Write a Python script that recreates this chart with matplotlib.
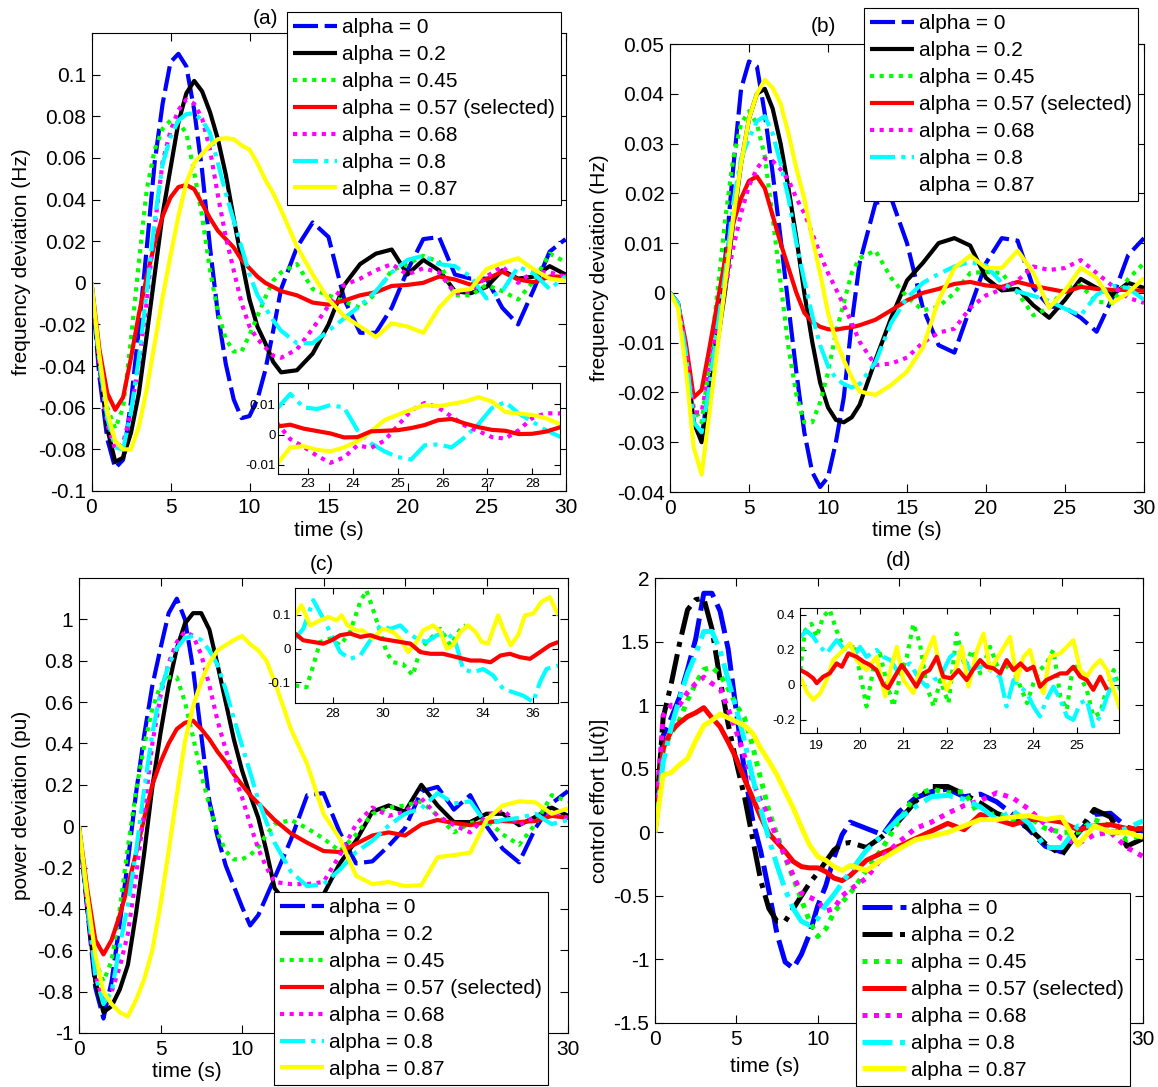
import matplotlib
matplotlib.use('Agg')
import matplotlib.pyplot as plt
from matplotlib.lines import Line2D

plt.rcParams['font.family'] = ['Liberation Sans', 'DejaVu Sans']
plt.rcParams['axes.unicode_minus'] = False

# ---------------- data ----------------
labels = ['alpha = 0', 'alpha = 0.2', 'alpha = 0.45', 'alpha = 0.57 (selected)',
          'alpha = 0.68', 'alpha = 0.8', 'alpha = 0.87']
T = [0, 0.5, 1, 1.5, 2, 2.5, 3, 3.5, 4, 4.5, 5, 5.5, 6, 6.5, 7, 7.5, 8, 8.5, 9, 9.5,
     10, 10.5, 11, 11.5, 12, 13, 14, 15, 16, 17, 18, 19, 20, 21, 22, 23, 24, 25, 26,
     27, 28, 29, 30]

# (a) frequency deviation, case 1
a_blue = [0, -0.045, -0.075, -0.089, -0.085, -0.057, -0.022, 0.017, 0.058, 0.086, 0.106, 0.11, 0.104, 0.083, 0.054, 0.017, -0.015, -0.039, -0.056, -0.065, -0.064, -0.056, -0.042, -0.023, -0.003,
          0.017, 0.029, 0.022, -0.008, -0.024, -0.024, -0.012, 0.006, 0.021, 0.022, 0.004, 0.002, 0.002, -0.012, -0.02, -0.003, 0.015, 0.021]
a_black = [0, -0.04, -0.07, -0.086, -0.084, -0.072, -0.053, -0.025, 0.004, 0.033, 0.055, 0.077, 0.091, 0.097, 0.092, 0.082, 0.069, 0.052, 0.031, 0.011, -0.008, -0.021, -0.029, -0.038, -0.043,
           -0.042, -0.034, -0.02, -0.001, 0.009, 0.014, 0.016, 0.004, 0.011, 0.006, -0.004, -0.005, -0.002, 0.006, 0.002, 0.003, 0.008, 0.004]
a_green = [0, -0.035, -0.06, -0.07, -0.06, -0.027, 0.01, 0.045, 0.064, 0.074, 0.078, 0.077, 0.072, 0.053, 0.032, 0.006, -0.014, -0.027, -0.033, -0.033, -0.025, -0.016, -0.007, 0.001, 0.005,
           0.009, -0.003, -0.006, -0.009, -0.012, -0.005, 0.006, 0.009, 0.013, 0.01, -0.006, -0.006, -0.001, -0.004, -0.008, 0.001, 0.014, 0.01]
a_red = [0, -0.032, -0.053, -0.061, -0.055, -0.036, -0.015, 0.003, 0.019, 0.032, 0.041, 0.046, 0.047, 0.045, 0.038, 0.031, 0.025, 0.021, 0.017, 0.011, 0.007, 0.003, 0.0, -0.002, -0.004,
         -0.006, -0.0095, -0.0105, -0.0085, -0.006, -0.0045, -0.0015, -0.001, 0.0, 0.003, 0.0016, -0.0009, 0.0018, 0.0053, 0.0016, 0.0003, 0.003, 0.003]
a_mag = [0, -0.04, -0.068, -0.08, -0.077, -0.062, -0.038, -0.009, 0.027, 0.058, 0.073, 0.083, 0.088, 0.086, 0.079, 0.064, 0.042, 0.022, 0.006, -0.0098, -0.021, -0.027, -0.031, -0.035, -0.036,
         -0.032, -0.022, -0.011, -0.001, 0.002, 0.006, 0.009, 0.004, 0.007, 0.005, -0.005, -0.004, 0.003, 0.008, 0.0, 0.0055, 0.005, 0.003]
a_cyan = [0, -0.038, -0.065, -0.079, -0.08, -0.062, -0.036, -0.004, 0.03, 0.057, 0.07, 0.078, 0.081, 0.0815, 0.078, 0.072, 0.0575, 0.043, 0.03, 0.017, 0.004, -0.0058, -0.012, -0.018, -0.023,
          -0.029, -0.029, -0.023, -0.017, -0.011, -0.004, 0.005, 0.011, 0.013, 0.009, 0.008, 0.003, -0.0075, -0.004, 0.0077, 0.0044, -0.003, 0.003]
a_yel = [0, -0.035, -0.062, -0.076, -0.08, -0.08, -0.069, -0.051, -0.029, -0.007, 0.013, 0.032, 0.048, 0.0575, 0.062, 0.066, 0.069, 0.0695, 0.069, 0.066, 0.064, 0.0575, 0.0495, 0.043, 0.035,
         0.0175, 0.004, -0.008, -0.016, -0.021, -0.026, -0.0195, -0.021, -0.024, -0.012, -0.004, -0.003, 0.0066, 0.0095, 0.0118, 0.0064, 0.002, 0.001]

# (b) frequency deviation, case 2
b_blue = [0, -0.002, -0.013, -0.026, -0.029, -0.018, -0.006, 0.007, 0.025, 0.041, 0.0465, 0.0455, 0.036, 0.024, 0.011, -0.0027, -0.016, -0.028, -0.036, -0.039, -0.037, -0.03, -0.021, -0.006, 0.006,
          0.018, 0.019, 0.01, -0.003, -0.0105, -0.012, -0.003, 0.006, 0.011, 0.0105, 0.001, -0.0027, -0.003, -0.005, -0.0078, -0.001, 0.0076, 0.011]
b_black = [0, -0.002, -0.012, -0.026, -0.03, -0.021, -0.01, 0.0006, 0.014, 0.026, 0.035, 0.04, 0.041, 0.037, 0.03, 0.021, 0.011, 0.0, -0.0098, -0.018, -0.023, -0.0255, -0.026, -0.025, -0.0225,
           -0.0135, -0.005, 0.0025, 0.006, 0.01, 0.011, 0.0095, 0.003, 0.0005, 0.0008, -0.0025, -0.005, -0.0014, 0.0028, 0.001, -0.0004, 0.002, 0.001]
b_green = [0, -0.002, -0.011, -0.023, -0.026, -0.014, 0.0, 0.015, 0.027, 0.034, 0.0365, 0.034, 0.0274, 0.015, 0.002, -0.011, -0.0205, -0.026, -0.026, -0.022, -0.016, -0.008, -0.002, 0.004, 0.007,
           0.0085, 0.003, -0.0008, -0.0035, -0.0028, 0.0, 0.004, 0.0042, 0.004, 0.0, -0.0045, -0.003, 0.001, 0.0015, -0.0018, -0.002, 0.0028, 0.006]
b_red = [0, -0.002, -0.01, -0.021, -0.0195, -0.011, -0.002, 0.007, 0.014, 0.019, 0.0225, 0.0234, 0.021, 0.0155, 0.01, 0.005, 0.0, -0.004, -0.0058, -0.0068, -0.0073, -0.0074, -0.0071, -0.0069, -0.0065,
         -0.0054, -0.0035, -0.0015, 0.0, 0.0008, 0.0018, 0.0022, 0.0015, 0.0012, 0.0022, 0.0014, 0.0008, 0.0002, 0.0012, 0.0008, 0.0006, 0.0006, 0.0004]
b_mag = [0, -0.002, -0.011, -0.024, -0.024, -0.015, -0.007, 0.001, 0.009, 0.016, 0.0215, 0.025, 0.027, 0.0265, 0.0248, 0.0227, 0.019, 0.016, 0.012, 0.0078, 0.004, 0.0008, -0.0025, -0.006, -0.0098,
         -0.0145, -0.0142, -0.013, -0.01, -0.008, -0.0072, -0.003, -0.0005, 0.0007, 0.0025, 0.0053, 0.0046, 0.005, 0.0066, 0.004, 0.0014, -0.001, -0.002]
b_cyan = [0, -0.002, -0.012, -0.026, -0.028, -0.019, -0.007, 0.004, 0.018, 0.027, 0.031, 0.0345, 0.0355, 0.032, 0.026, 0.019, 0.01, 0.0025, -0.0045, -0.0105, -0.0147, -0.0172, -0.0183, -0.019, -0.0183,
          -0.014, -0.006, -0.001, 0.002, 0.0038, 0.0053, 0.0062, 0.0055, 0.002, 0.0003, -0.0006, -0.0016, -0.0032, -0.0045, -0.0004, 0.0014, 0.001, -0.0014]
b_yel = [0, -0.003, -0.015, -0.031, -0.0365, -0.024, -0.011, 0.002, 0.015, 0.026, 0.035, 0.04, 0.0428, 0.0412, 0.038, 0.032, 0.025, 0.019, 0.011, 0.004, -0.004, -0.0095, -0.0135, -0.017, -0.0198,
         -0.0205, -0.0185, -0.0158, -0.011, -0.0015, 0.005, 0.0075, 0.005, 0.005, 0.0085, 0.004, -0.003, 0.0005, 0.005, 0.003, -0.002, 0.0, 0.003]

# (c) power deviation
c_blue = [0, -0.4, -0.78, -0.93, -0.75, -0.47, -0.17, 0.16, 0.44, 0.68, 0.86, 1.03, 1.1, 1.0, 0.76, 0.44, 0.12, -0.05, -0.19, -0.29, -0.39, -0.48, -0.43, -0.34, -0.25,
          -0.065, 0.15, 0.16, -0.03, -0.18, -0.17, -0.095, -0.01, 0.168, 0.19, 0.08, 0.15, 0.0, -0.11, -0.175, -0.01, 0.11, 0.17]
c_black = [0, -0.38, -0.75, -0.9, -0.87, -0.79, -0.67, -0.42, -0.13, 0.19, 0.45, 0.68, 0.86, 0.98, 1.03, 1.03, 0.95, 0.78, 0.6, 0.42, 0.27, 0.15, 0.04, -0.12, -0.3,
           -0.4, -0.42, -0.33, -0.18, -0.07, 0.07, 0.1, 0.07, 0.2, 0.1, 0.02, 0.02, 0.06, 0.06, 0.005, 0.045, 0.09, 0.05]
c_green = [0, -0.35, -0.65, -0.75, -0.65, -0.4, -0.1, 0.17, 0.39, 0.57, 0.68, 0.72, 0.72, 0.6, 0.43, 0.25, 0.1, -0.03, -0.12, -0.16, -0.16, -0.14, -0.1, -0.04, 0.01,
           0.03, -0.01, -0.06, -0.12, -0.04, 0.06, 0.09, 0.1, 0.12, 0.05, -0.03, 0.015, 0.03, -0.04, -0.09, 0.01, 0.15, 0.12]
c_red = [0, -0.3, -0.55, -0.62, -0.55, -0.43, -0.29, -0.13, 0.04, 0.2, 0.31, 0.4, 0.47, 0.5, 0.51, 0.47, 0.42, 0.36, 0.31, 0.25, 0.2, 0.15, 0.11, 0.07, 0.03,
         -0.035, -0.08, -0.12, -0.125, -0.085, -0.045, -0.03, -0.045, 0.008, 0.03, 0.015, 0.005, 0.02, 0.025, 0.02, 0.025, 0.05, 0.04]
c_mag = [0, -0.38, -0.72, -0.85, -0.8, -0.68, -0.52, -0.24, 0.07, 0.4, 0.63, 0.79, 0.89, 0.94, 0.92, 0.83, 0.68, 0.51, 0.37, 0.25, 0.14, 0.01, -0.11, -0.2, -0.27,
         -0.28, -0.28, -0.27, -0.14, 0.01, 0.09, 0.05, 0.07, 0.135, 0.05, 0.005, -0.03, 0.05, 0.08, 0.005, 0.045, 0.07, 0.04]
c_cyan = [0, -0.36, -0.72, -0.86, -0.8, -0.58, -0.38, -0.12, 0.18, 0.45, 0.65, 0.78, 0.86, 0.91, 0.92, 0.9, 0.85, 0.78, 0.66, 0.52, 0.39, 0.26, 0.126, 0.02, -0.08,
          -0.22, -0.29, -0.28, -0.21, -0.125, -0.07, 0.003, 0.06, 0.086, 0.16, 0.11, 0.12, 0.01, 0.03, 0.04, 0.06, 0.01, 0.03]
c_yel = [0, -0.33, -0.62, -0.8, -0.86, -0.9, -0.92, -0.84, -0.74, -0.6, -0.38, -0.12, 0.15, 0.41, 0.58, 0.7, 0.79, 0.85, 0.875, 0.9, 0.92, 0.88, 0.85, 0.8, 0.7,
         0.47, 0.3, 0.06, -0.06, -0.24, -0.28, -0.27, -0.29, -0.285, -0.15, -0.14, -0.128, 0.03, 0.1, 0.12, 0.115, 0.06, 0.086]

# (d) control effort
d_blue = [0, 0.76, 0.9, 1.06, 1.28, 1.52, 1.88, 1.88, 1.74, 1.44, 0.95, 0.48, 0.1, -0.15, -0.46, -0.8, -1.02, -1.07, -0.96, -0.8, -0.58, -0.42, -0.2, -0.02, 0.08,
          0.03, -0.02, 0.16, 0.27, 0.32, 0.34, 0.28, 0.3, 0.24, 0.14, 0.02, -0.11, -0.155, -0.01, 0.14, 0.15, 0.04, 0.01]
d_black = [0, 0.9, 1.17, 1.48, 1.75, 1.83, 1.84, 1.6, 1.2, 0.85, 0.55, 0.28, -0.05, -0.38, -0.6, -0.7, -0.7, -0.6, -0.5, -0.4, -0.32, -0.23, -0.14, -0.09, -0.08,
           -0.12, -0.03, 0.09, 0.24, 0.36, 0.36, 0.3, 0.23, 0.15, 0.1, 0.03, -0.09, -0.18, 0.0, 0.18, 0.12, -0.11, -0.05]
d_green = [0, 0.65, 0.78, 0.88, 1.04, 1.17, 1.28, 1.3, 1.24, 1.13, 1.0, 0.9, 0.68, 0.42, 0.17, -0.02, -0.2, -0.36, -0.53, -0.7, -0.82, -0.76, -0.63, -0.55, -0.48,
           -0.3, -0.12, 0.09, 0.29, 0.34, 0.31, 0.32, 0.12, 0.15, 0.1, 0.12, 0.03, 0.0, 0.0, 0.1, 0.05, -0.06, -0.02]
d_red = [0, 0.66, 0.8, 0.86, 0.91, 0.94, 0.98, 0.9, 0.83, 0.71, 0.58, 0.42, 0.27, 0.12, -0.01, -0.08, -0.15, -0.23, -0.27, -0.28, -0.28, -0.31, -0.36, -0.38, -0.34,
         -0.22, -0.16, -0.11, -0.05, 0.01, 0.07, 0.02, 0.14, 0.1, 0.06, 0.1, 0.1, 0.08, 0.02, 0.05, 0.06, 0.03, 0.03]
d_mag = [0, 0.92, 1.0, 1.0, 1.1, 1.17, 1.22, 1.17, 1.13, 0.97, 0.79, 0.6, 0.4, 0.25, 0.12, -0.05, -0.19, -0.34, -0.48, -0.51, -0.54, -0.62, -0.6, -0.5, -0.45,
         -0.36, -0.19, -0.076, 0.03, 0.08, 0.15, 0.21, 0.25, 0.31, 0.27, 0.18, 0.06, -0.05, -0.09, -0.02, 0.0, -0.12, -0.19]
d_cyan = [0, 0.55, 0.83, 1.05, 1.25, 1.4, 1.58, 1.58, 1.43, 1.2, 0.97, 0.72, 0.43, 0.18, -0.05, -0.26, -0.45, -0.6, -0.7, -0.73, -0.68, -0.57, -0.49, -0.4, -0.31,
          -0.14, -0.02, 0.11, 0.2, 0.28, 0.29, 0.26, 0.2, 0.1, 0.17, 0.07, -0.12, -0.12, 0.05, 0.05, 0.0, 0.03, 0.09]
d_yel = [0, 0.45, 0.47, 0.53, 0.58, 0.72, 0.84, 0.88, 0.93, 0.9, 0.87, 0.84, 0.78, 0.66, 0.56, 0.45, 0.32, 0.19, 0.04, -0.1, -0.19, -0.22, -0.27, -0.3, -0.26,
         -0.3, -0.21, -0.13, -0.06, -0.03, 0.0, 0.05, 0.1, 0.1, 0.12, 0.13, 0.1, 0.12, -0.1, 0.05, 0.0, 0.0, -0.04]

# inset (a)
ia_t = [22.3, 22.6, 22.9, 23.2, 23.5, 23.8, 24.1, 24.4, 24.7, 25.0, 25.3, 25.6, 25.9, 26.2, 26.5, 26.8, 27.1, 27.4, 27.7, 28.0, 28.3, 28.7]
ia_red = [0.0027, 0.0033, 0.002, 0.0012, 0.0004, -0.0009, -0.0008, 0.0011, 0.0013, 0.0015, 0.0022, 0.0032, 0.0048, 0.0052, 0.0037, 0.0025, 0.0016, 0.0013, 0.0002, 0.0003, 0.001, 0.0028]
ia_mag = [0.004, -0.0015, -0.004, -0.007, -0.0093, -0.0075, -0.0035, -0.0044, -0.002, 0.003, 0.008, 0.0105, 0.009, 0.006, 0.003, 0.0012, -0.0008, -0.0013, 0.0015, 0.0055, 0.0071, 0.007]
ia_cyan = [0.0085, 0.0135, 0.009, 0.0085, 0.0098, 0.009, 0.0015, -0.0028, -0.0055, -0.0074, -0.0082, -0.0035, -0.0032, -0.0042, -0.0008, 0.0035, 0.0088, 0.0108, 0.007, 0.0044, 0.0015, -0.0012]
ia_yel = [-0.0099, -0.0042, -0.0038, -0.005, -0.0055, -0.0042, -0.0022, 0.001, 0.0048, 0.0066, 0.0083, 0.0098, 0.0094, 0.0102, 0.011, 0.0124, 0.011, 0.0075, 0.007, 0.0065, 0.0055, 0.003]

# inset (c)
ic_yel_t = [26.5, 26.76, 27.1, 27.5, 27.83, 28.16, 28.36, 28.6, 28.96, 29.2, 29.6, 30.0, 30.4, 30.75, 31.0, 31.35, 31.6, 32.0, 32.3, 32.55, 32.8, 33.1, 33.4, 33.7, 33.95, 34.2, 34.6, 34.8, 35.1, 35.4, 35.67, 36.0, 36.33, 36.66, 37.0]
ic_yel = [0.099, 0.129, 0.069, 0.084, 0.094, 0.084, 0.099, 0.069, 0.054, 0.054, 0.03, 0.059, 0.05, 0.025, -0.01, 0.02, 0.054, 0.069, 0.05, 0.0, 0.01, 0.05, 0.069, 0.05, 0.02, 0.015, 0.099, 0.059, 0.01, 0.04, 0.099, 0.104, 0.139, 0.153, 0.099]
ic_red_t = [26.5, 26.83, 27.23, 27.63, 27.96, 28.3, 28.7, 29.1, 29.5, 29.9, 30.3, 30.7, 31.1, 31.5, 31.9, 32.4, 32.95, 33.5, 33.9, 34.3, 34.7, 35.07, 35.47, 35.87, 36.27, 36.66, 37.0]
ic_red = [0.045, 0.025, 0.02, 0.015, 0.025, 0.04, 0.045, 0.035, 0.04, 0.03, 0.025, 0.02, 0.015, -0.01, -0.015, -0.015, -0.025, -0.035, -0.035, -0.04, -0.02, -0.015, -0.025, -0.03, -0.01, 0.01, 0.02]
ic_green_t = [26.5, 26.96, 27.23, 27.5, 27.9, 28.3, 28.7, 29.1, 29.35, 29.6, 29.9, 30.15, 30.4, 30.8, 31.2, 31.5, 31.9, 32.3, 32.7, 33.1, 33.3]
ic_green = [-0.109, -0.114, -0.05, 0.02, 0.03, 0.01, 0.05, 0.139, 0.173, 0.119, 0.05, -0.01, -0.04, -0.045, -0.079, 0.0, 0.03, 0.059, 0.01, 0.059, 0.07]
ic_cyan_t = [26.5, 26.83, 27.23, 27.63, 27.9, 28.3, 28.7, 29.1, 29.5, 29.9, 30.3, 30.7, 30.96, 31.35, 31.75, 32.15, 32.55, 32.9, 33.2, 33.6, 34.0, 34.4, 34.8, 35.2, 35.6, 36.0, 36.27, 36.53, 37.0]
ic_cyan = [0.03, 0.059, 0.144, 0.089, 0.05, -0.01, -0.03, -0.02, 0.025, 0.069, 0.059, 0.069, 0.05, 0.03, 0.02, 0.04, 0.05, 0.02, -0.06, -0.07, -0.06, -0.079, -0.119, -0.129, -0.139, -0.158, -0.099, -0.06, -0.05]

# inset (d)
id_red_t = [18.62, 18.77, 18.92, 19.0, 19.15, 19.3, 19.46, 19.58, 19.73, 19.92, 20.08, 20.23, 20.38, 20.54, 20.65, 20.8, 20.96, 21.1, 21.3, 21.46, 21.6, 21.77, 21.92, 22.1, 22.27, 22.46, 22.6, 22.77, 22.92, 23.08, 23.23, 23.38, 23.54, 23.7, 23.85, 24.0, 24.15, 24.3, 24.46, 24.62, 24.77, 24.92, 25.08, 25.23, 25.38, 25.54, 25.7]
id_red = [0.085, 0.066, 0.038, 0.01, 0.047, 0.066, 0.123, 0.104, 0.18, 0.161, 0.133, 0.114, 0.085, 0.0, -0.019, 0.047, 0.114, 0.066, -0.01, 0.066, 0.085, 0.161, 0.047, 0.038, 0.085, 0.028, 0.085, 0.142, 0.104, 0.095, 0.066, 0.142, 0.085, 0.123, 0.085, 0.104, -0.01, 0.028, 0.047, 0.066, 0.066, 0.104, 0.047, 0.028, -0.028, 0.047, -0.028]
id_yel_t = [18.62, 18.77, 18.92, 19.08, 19.23, 19.38, 19.54, 19.77, 19.92, 20.15, 20.38, 20.58, 20.7, 20.85, 21.0, 21.23, 21.38, 21.54, 21.7, 21.85, 22.0, 22.2, 22.35, 22.5, 22.7, 22.85, 23.0, 23.23, 23.46, 23.62, 23.77, 23.92, 24.08, 24.23, 24.38, 24.62, 24.77, 24.92, 25.08, 25.23, 25.38, 25.54, 25.7, 25.85, 26.0]
id_yel = [0.047, -0.038, -0.085, -0.047, 0.028, 0.142, 0.18, 0.237, 0.142, 0.085, 0.161, -0.066, 0.085, 0.218, 0.028, -0.047, 0.085, 0.18, 0.275, 0.085, -0.028, 0.085, 0.218, -0.01, 0.2, 0.294, 0.085, 0.18, 0.275, 0.028, 0.161, 0.2, 0.047, -0.047, 0.161, 0.18, 0.218, 0.256, 0.085, 0.047, 0.104, 0.142, 0.085, -0.028, -0.142]
id_green_t = [18.62, 18.73, 18.88, 19.0, 19.15, 19.3, 19.46, 19.7, 19.85, 20.0, 20.15, 20.3, 20.46, 20.6, 20.77, 20.92, 21.08, 21.23, 21.38, 21.54, 21.7, 21.85, 22.04, 22.23, 22.42, 22.58, 22.77, 23.0, 23.23, 23.46, 23.7, 23.85, 24.0, 24.15, 24.3, 24.46, 24.62, 24.77, 24.92, 25.08, 25.23, 25.38, 25.54, 25.7, 25.85, 26.0]
id_green = [0.085, 0.31, 0.35, 0.275, 0.39, 0.43, 0.31, 0.161, 0.237, 0.066, -0.123, 0.085, 0.18, 0.028, -0.123, 0.047, 0.161, 0.35, 0.237, -0.01, -0.123, 0.028, -0.104, 0.294, 0.104, 0.2, 0.066, 0.218, 0.066, 0.123, -0.01, -0.104, 0.01, 0.085, 0.123, 0.2, -0.066, -0.142, 0.123, 0.047, -0.028, -0.18, -0.161, -0.01, 0.085, -0.028]
id_cyan_t = [18.62, 18.77, 18.92, 19.08, 19.23, 19.46, 19.65, 19.85, 20.0, 20.15, 20.38, 20.54, 20.7, 20.85, 21.0, 21.15, 21.38, 21.54, 21.7, 21.85, 22.08, 22.3, 22.54, 22.77, 23.0, 23.23, 23.38, 23.54, 23.7, 23.85, 24.0, 24.15, 24.3, 24.46, 24.62, 24.77, 24.92, 25.08, 25.23, 25.38, 25.54, 25.7, 25.85, 26.0]
id_cyan = [0.275, 0.31, 0.275, 0.218, 0.18, 0.256, 0.2, 0.161, 0.218, 0.161, 0.2, 0.161, 0.142, 0.085, 0.104, 0.123, 0.028, -0.01, 0.028, 0.047, 0.161, 0.2, 0.085, 0.104, 0.085, 0.047, -0.123, 0.028, -0.01, -0.047, -0.123, -0.18, -0.085, -0.01, -0.085, -0.18, -0.2, -0.104, -0.085, -0.237, -0.18, -0.066, 0.028, 0.066]

# ticks
xt_main = [0, 5, 10, 15, 20, 25, 30]
yt_a = [-0.1, -0.08, -0.06, -0.04, -0.02, 0, 0.02, 0.04, 0.06, 0.08, 0.1]
yt_b = [-0.04, -0.03, -0.02, -0.01, 0, 0.01, 0.02, 0.03, 0.04, 0.05]
yt_c = [-1, -0.8, -0.6, -0.4, -0.2, 0, 0.2, 0.4, 0.6, 0.8, 1]
yt_d = [-1.5, -1, -0.5, 0, 0.5, 1, 1.5, 2]

# ---------------- styling ----------------
W, H = 1158, 1087
FS = 15
LW = 3
DASH = (0, (6, 1.6))
DOT = (0, (1, 1.3))
DASHDOT = (0, (6, 1.5, 1, 1.5))
COLORS = ['#0000ff', '#000000', '#00ff00', '#ff0000', '#ff00ff', '#00ffff', '#ffff00']
STYLES = [DASH, '-', DOT, '-', DOT, DASHDOT, '-']

fig = plt.figure(figsize=(W / 100, H / 100), dpi=100)


def ax_at(l, t, r, b):
    return fig.add_axes([l / W, 1 - b / H, (r - l) / W, (b - t) / H])


def fmt(v):
    return '%g' % v


def style(ax, fs, length, padx, pady):
    ax.tick_params(direction='in', top=True, right=True, length=length, width=0.8,
                   labelsize=fs)
    ax.tick_params(axis='x', pad=padx)
    ax.tick_params(axis='y', pad=pady)
    for s in ax.spines.values():
        s.set_linewidth(0.8)


def main_panel(box, series, yt, ylim, ylabel, ylab_x, xlab_xy, styles, lw=LW):
    ax = ax_at(*box)
    handles = []
    for y, c, ls in zip(series, COLORS, styles):
        ln, = ax.plot(T, y, color=c, lw=lw, linestyle=ls, solid_capstyle='butt',
                      dash_capstyle='butt')
        handles.append(ln)
    ax.set_xlim(0, 30)
    ax.set_ylim(*ylim)
    ax.set_xticks(xt_main)
    ax.set_xticklabels([fmt(v) for v in xt_main])
    ax.set_yticks(yt)
    ax.set_yticklabels([fmt(v) for v in yt])
    style(ax, FS, 6, 5, 4)
    ax.set_ylabel(ylabel, fontsize=FS)
    ax.yaxis.set_label_coords(ylab_x, 0.5)
    ax.set_xlabel('time (s)', fontsize=FS)
    ax.xaxis.set_label_coords(*xlab_xy)
    return ax, handles


def inset(box, tlist, ylist, cols, lss, xlim, ylim, xt, yt, padx, pady):
    ax = ax_at(*box)
    ax.set_facecolor('white')
    for t, y, c, ls in zip(tlist, ylist, cols, lss):
        ax.plot(t, y, color=c, lw=LW, linestyle=ls, solid_capstyle='butt',
                dash_capstyle='butt')
    ax.set_xlim(*xlim)
    ax.set_ylim(*ylim)
    ax.set_xticks(xt)
    ax.set_xticklabels([fmt(v) for v in xt])
    ax.set_yticks(yt)
    ax.set_yticklabels([fmt(v) for v in yt])
    style(ax, 9.5, 4, padx, pady)
    return ax


def legend(handles, x, y):
    lg = fig.legend(handles, labels, loc='upper left', bbox_to_anchor=(x / W, 1 - y / H),
                    bbox_transform=fig.transFigure, frameon=True, fancybox=False,
                    edgecolor='black', framealpha=1, borderaxespad=0, borderpad=0.3,
                    labelspacing=0.38, handlelength=2.1, handletextpad=0.25, fontsize=FS)
    lg.get_frame().set_linewidth(0.8)
    return lg


# (a)
axa, ha = main_panel((91.5, 33, 565.5, 491), [a_blue, a_black, a_green, a_red, a_mag, a_cyan, a_yel],
                     yt_a, (-0.1, 0.12), 'frequency deviation (Hz)', -0.128, (0.5, -0.066), STYLES)
inset((277.7, 383, 560, 473.7), [ia_t, ia_t, ia_t, ia_t], [ia_cyan, ia_mag, ia_yel, ia_red],
      [COLORS[5], COLORS[4], COLORS[6], COLORS[3]], [DASHDOT, DOT, '-', '-'],
      (22.32, 28.62), (-0.0129, 0.0171), [23, 24, 25, 26, 27, 28], [-0.01, 0, 0.01], 3, 1.5)
legend(ha, 287, 12)
fig.text(265 / W, 1 - 19 / H, '(a)', ha='center', va='center', fontsize=FS)

# (b)
axb, hb = main_panel((670, 44, 1144, 492), [b_blue, b_black, b_green, b_red, b_mag, b_cyan, b_yel],
                     yt_b, (-0.04, 0.05), 'frequency deviation (Hz)', -0.129, (0.5, -0.065), STYLES)
hb_leg = hb[:6] + [Line2D([], [], color='none')]
legend(hb_leg, 864, 8)
fig.text(823 / W, 1 - 26 / H, '(b)', ha='center', va='center', fontsize=FS)

# (c)
axc, hc = main_panel((79, 578, 568, 1033), [c_blue, c_black, c_green, c_red, c_mag, c_cyan, c_yel],
                     yt_c, (-1, 1.2), 'power deviation (pu)', -0.098, (0.221, -0.064), STYLES)
inset((295, 588, 558.3, 702.7), [ic_green_t, ic_cyan_t, ic_yel_t, ic_red_t],
      [ic_green, ic_cyan, ic_yel, ic_red],
      [COLORS[2], COLORS[5], COLORS[6], COLORS[3]], [DOT, DASHDOT, '-', '-'],
      (26.5, 37.0), (-0.16, 0.18), [28, 30, 32, 34, 36], [-0.1, 0, 0.1], 4, 3)
legend(hc, 274, 892)
fig.text(322 / W, 1 - 564 / H, '(c)', ha='center', va='center', fontsize=FS)

# (d)
styles_d = [DASH, DASHDOT, DOT, '-', DOT, DASHDOT, '-']
axd, hd = main_panel((655, 578, 1143, 1023), [d_blue, d_black, d_green, d_red, d_mag, d_cyan, d_yel],
                     yt_d, (-1.5, 2), 'control effort [u(t)]', -0.094, (0.225, -0.076), styles_d,
                     lw=3.6)
inset((800, 608, 1119.3, 733), [id_green_t, id_cyan_t, id_yel_t, id_red_t],
      [id_green, id_cyan, id_yel, id_red],
      [COLORS[2], COLORS[5], COLORS[6], COLORS[3]], [DOT, DASHDOT, '-', '-'],
      (18.615, 25.98), (-0.275, 0.44), [19, 20, 21, 22, 23, 24, 25], [-0.2, 0, 0.2, 0.4], 5, 3.5)
legend(hd, 856, 893)
fig.text(899 / W, 1 - 561 / H, '(d)', ha='center', va='center', fontsize=FS)

fig.savefig('out.png', dpi=100)
